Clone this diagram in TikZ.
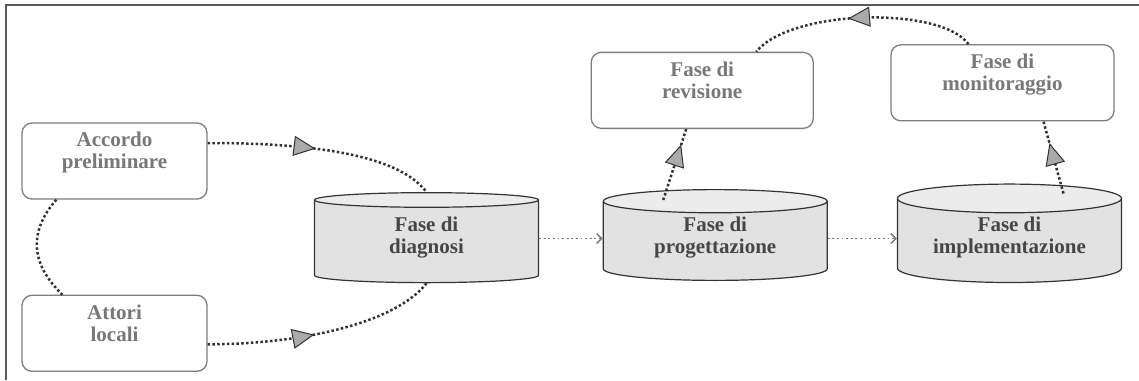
\documentclass[tikz,border=0pt]{standalone}
\usepackage{fontspec}
\setmainfont{Liberation Serif}
\usetikzlibrary{positioning,arrows.meta,shapes.geometric,decorations.markings}
\definecolor{framegray}{RGB}{90,90,90}
\definecolor{boxgray}{RGB}{125,125,125}
\definecolor{boxtext}{RGB}{120,120,120}
\definecolor{phasetext}{RGB}{70,70,70}
\definecolor{phasefill}{RGB}{226,226,226}
\definecolor{phasetop}{RGB}{236,236,236}
\definecolor{dotdark}{RGB}{50,50,50}
\definecolor{dotlight}{RGB}{120,120,120}
\definecolor{trifill}{RGB}{170,170,170}
\tikzset{
  actorbox/.style={rectangle, rounded corners=10pt, draw=boxgray, fill=white, line width=1.3pt,
                minimum width=185pt, minimum height=76pt, align=center, text=boxtext,
                text depth=21pt, font=\fontsize{21}{22}\selectfont\bfseries},
  phasecyl/.style={cylinder, shape border rotate=90, aspect=0.18, draw=black!80, line width=1.2pt,
                cylinder uses custom fill, cylinder body fill=phasefill, cylinder end fill=phasetop,
                minimum width=224pt, minimum height=90pt, align=center, text=phasetext,
                text depth=15pt, font=\fontsize{21}{22}\selectfont\bfseries},
  dotlink/.style={draw=dotdark, line width=2.5pt, dash pattern=on 2.5pt off 2.3pt},
  tri/.style    ={postaction={decorate, decoration={markings,
                mark=at position #1 with {\arrow{Triangle[length=22pt, width=20pt, fill=trifill, line width=1pt]}}}}},
  seq/.style    ={-{Straight Barb[length=5pt, width=10pt, line width=1.5pt]}, draw=dotlight,
                line width=1.8pt, dash pattern=on 1.8pt off 2.8pt},
}
\begin{document}
\begin{tikzpicture}[x=1pt, y=-1pt, node distance=95pt and 64pt]
\useasboundingbox (0,0) rectangle (1139,380);
\draw[framegray, line width=1.5pt] (6,380) -- (6,5) -- (1139,5);
\node[actorbox] (acc) at (114.5,161) {Accordo\\preliminare};
\node[actorbox, below=95pt of acc] (att) {Attori\\locali};
\node[phasecyl] (diag) at (426.5,242.5) {Fase di\\diagnosi};
\node[phasecyl, right=63.5pt of diag] (prog) {Fase di\\progettazione};
\node[phasecyl, right=69pt of prog] (impl) {Fase di\\implementazione};
\node[actorbox, minimum width=222pt, above=60pt of prog, xshift=-13pt] (rev) {Fase di\\revisione};
\node[actorbox, minimum width=223pt, above=62pt of impl, xshift=-7pt] (mon) {Fase di\\monitoraggio};
\draw[dotlink, tri=0.47] ([yshift=18pt]acc.east) .. controls +(93,0) and +(-30,-40) .. (diag.north);
\draw[dotlink, tri=0.46] ([yshift=-11pt]att.east) .. controls +(93,0) and +(-31,40) .. (diag.south);
\draw[dotlink] ([xshift=35pt]acc.south west) .. controls +(-27,31) and +(-33,-32) .. ([xshift=41pt]att.north west);
\draw[seq] ([yshift=4pt]diag.east) -- ([yshift=4pt]prog.west);
\draw[seq] ([yshift=4pt]prog.east) -- ([yshift=4pt]impl.west);
\draw[dotlink, tri=0.78] ([xshift=-52pt,yshift=-11pt]prog.north) -- ([xshift=-16pt]rev.south);
\draw[dotlink, tri=0.7] ([xshift=54pt,yshift=-10pt]impl.north) -- ([xshift=41pt]mon.south);
\draw[dotlink, tri=0.56] ([xshift=-34pt]mon.north) .. controls +(-27,-38) and +(35,-43) .. ([xshift=54pt]rev.north);
\end{tikzpicture}
\end{document}
